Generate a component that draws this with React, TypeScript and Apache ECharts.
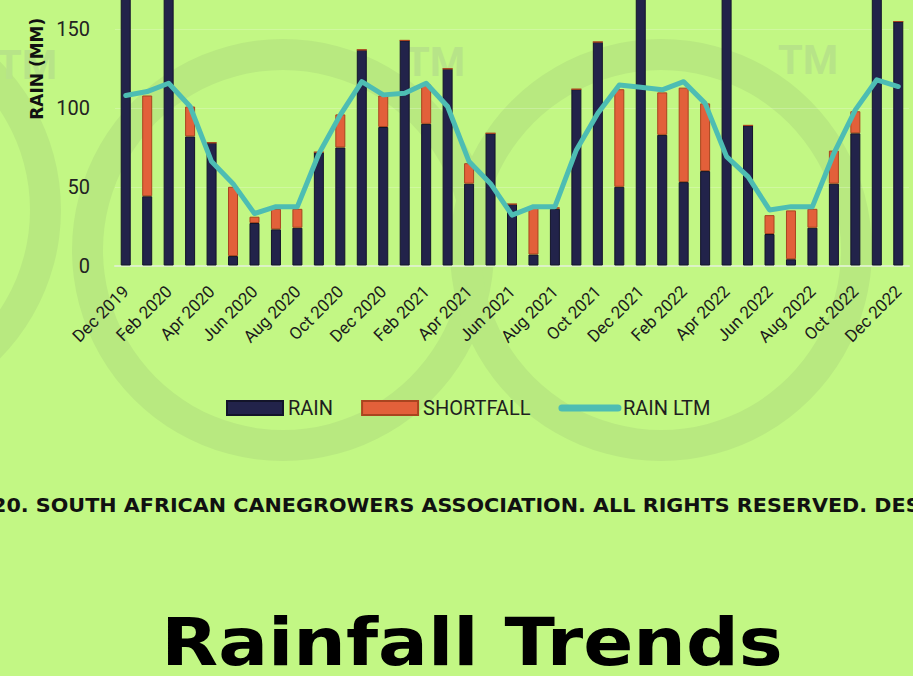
import React, { useEffect, useRef } from "react";
import * as echarts from "echarts";

const months = [
  "Dec 2019", "Jan 2020", "Feb 2020", "Mar 2020", "Apr 2020", "May 2020", "Jun 2020",
  "Jul 2020", "Aug 2020", "Sep 2020", "Oct 2020", "Nov 2020", "Dec 2020", "Jan 2021",
  "Feb 2021", "Mar 2021", "Apr 2021", "May 2021", "Jun 2021", "Jul 2021", "Aug 2021",
  "Sep 2021", "Oct 2021", "Nov 2021", "Dec 2021", "Jan 2022", "Feb 2022", "Mar 2022",
  "Apr 2022", "May 2022", "Jun 2022", "Jul 2022", "Aug 2022", "Sep 2022", "Oct 2022",
  "Nov 2022", "Dec 2022",
];

const rain = [
  195, 44, 188, 82, 78, 6, 27, 23, 24, 72, 75, 137, 88, 143, 90, 125, 52, 84, 39, 7,
  36, 112, 142, 50, 215, 83, 53, 60, 190, 89, 20, 4, 24, 52, 84, 205, 155,
];

const shortfall = [
  0, 64, 0, 19, 0, 44, 4, 13, 12, 0, 21, 0, 20, 0, 25, 0, 13, 0, 0, 30,
  1, 0, 0, 62, 0, 27, 60, 43, 0, 0, 12, 31, 12, 21, 14, 0, 0,
];

const rainLtm = [
  108, 110.5, 115.8, 101, 66, 52, 33, 37.4, 37.4, 71, 95.7, 116.8, 108.4, 109.5, 115.8,
  101, 66, 52, 32, 37.4, 37.4, 73.4, 96.7, 114.7, 113.3, 111.6, 116.8, 103, 69.2, 56.5,
  35.3, 37.4, 37.4, 71.3, 98.9, 118, 113.7,
];

const footerText = "20. SOUTH AFRICAN CANEGROWERS ASSOCIATION. ALL RIGHTS RESERVED. DESIGNED";
const titleText = "Rainfall Trends";

const BG = "#c2f784";
const RING = "#b8e980";
const OFF = 140; // chart canvas extends 140px above the visible page

export default function App() {
  const ref = useRef<HTMLDivElement>(null);

  useEffect(() => {
    document.body.style.margin = "0";
    if (!ref.current) return;
    const chart = echarts.init(ref.current, null, { renderer: "svg" });

    const rings = [
      { cx: -150, cy: 210 },
      { cx: 283, cy: 250 },
      { cx: 661, cy: 250 },
    ].map((c) => ({
      type: "ring",
      silent: true,
      z: -10,
      shape: { cx: c.cx, cy: c.cy + OFF, r: 211, r0: 180 },
      style: { fill: RING },
    }));

    const tms = [
      { x: 27, y: 65 },
      { x: 435, y: 62 },
      { x: 808, y: 60 },
    ].map((p) => ({
      type: "text",
      silent: true,
      z: -10,
      x: p.x,
      y: p.y + OFF,
      style: {
        text: "TM",
        font: "bold 40px Roboto",
        fill: "#b7e488",
        align: "center",
        verticalAlign: "middle",
      },
    }));

    const option = {
      animation: false,
      backgroundColor: "transparent",
      grid: {
        left: 115,
        right: 4,
        top: 12,
        bottom: 410.5,
        containLabel: false,
        outerBoundsMode: "none",
      },
      xAxis: {
        type: "category",
        data: months,
        boundaryGap: true,
        axisLine: { show: true, lineStyle: { color: "#dcf2c6", width: 2 } },
        axisTick: { show: false },
        axisLabel: {
          interval: 1,
          rotate: 45,
          margin: 23,
          fontSize: 17,
          color: "#1c1c1c",
          fontFamily: "Roboto",
        },
      },
      yAxis: {
        type: "value",
        min: 0,
        max: 250,
        interval: 50,
        name: "RAIN (MM)",
        nameLocation: "middle",
        nameRotate: 90,
        nameGap: 70,
        nameTextStyle: {
          fontFamily: "DejaVu Sans",
          fontWeight: "bold",
          fontSize: 17,
          color: "#111",
        },
        axisLine: { show: false },
        axisTick: { show: false },
        axisLabel: {
          margin: 25,
          fontSize: 20,
          color: "#222",
          fontFamily: "Roboto",
        },
        splitLine: { lineStyle: { color: "rgba(255,255,255,0.22)", width: 1 } },
      },
      legend: {
        left: 226,
        top: 398 + OFF,
        padding: 0,
        itemWidth: 56,
        itemHeight: 14,
        itemGap: 28,
        textStyle: { fontSize: 20, fontFamily: "Roboto", color: "#1f1f1f" },
        data: [
          { name: "RAIN", icon: "rect" },
          { name: "SHORTFALL", icon: "rect" },
          {
            name: "RAIN LTM",
            itemStyle: { opacity: 0 },
            lineStyle: { width: 7, cap: "round", color: "#4dbdb3" },
          },
        ],
      },
      series: [
        {
          name: "RAIN",
          type: "bar",
          stack: "r",
          data: rain,
          barWidth: 10,
          itemStyle: { color: "#22234a", borderColor: "#13142a", borderWidth: 1 },
        },
        {
          name: "SHORTFALL",
          type: "bar",
          stack: "r",
          data: shortfall,
          barWidth: 10,
          itemStyle: { color: "#e2603a", borderColor: "#a9441f", borderWidth: 1 },
        },
        {
          name: "RAIN LTM",
          type: "line",
          data: rainLtm,
          symbol: "none",
          z: 5,
          lineStyle: { color: "#4dbdb3", width: 5, cap: "round", join: "round" },
          itemStyle: { color: "#4dbdb3" },
        },
      ],
      graphic: [
        ...rings,
        ...tms,
        {
          type: "text",
          silent: true,
          x: -8,
          y: 506 + OFF,
          scaleX: 1.09,
          style: {
            text: footerText,
            font: "bold 19px 'DejaVu Sans'",
            fill: "#111",
            align: "left",
            verticalAlign: "middle",
          },
        },
        {
          type: "text",
          silent: true,
          x: 472,
          y: 642 + OFF,
          scaleX: 1.12,
          style: {
            text: titleText,
            font: "bold 66px 'DejaVu Sans'",
            fill: "#000",
            align: "center",
            verticalAlign: "middle",
          },
        },
      ],
    };

    chart.setOption(option as any);
    return () => chart.dispose();
  }, []);

  return (
    <div
      style={{
        position: "fixed",
        left: 0,
        top: 0,
        width: 913,
        height: 676,
        background: BG,
        overflow: "hidden",
      }}
    >
      <div
        ref={ref}
        style={{ position: "absolute", left: 0, top: -OFF, width: 913, height: 676 + OFF }}
      />
    </div>
  );
}
